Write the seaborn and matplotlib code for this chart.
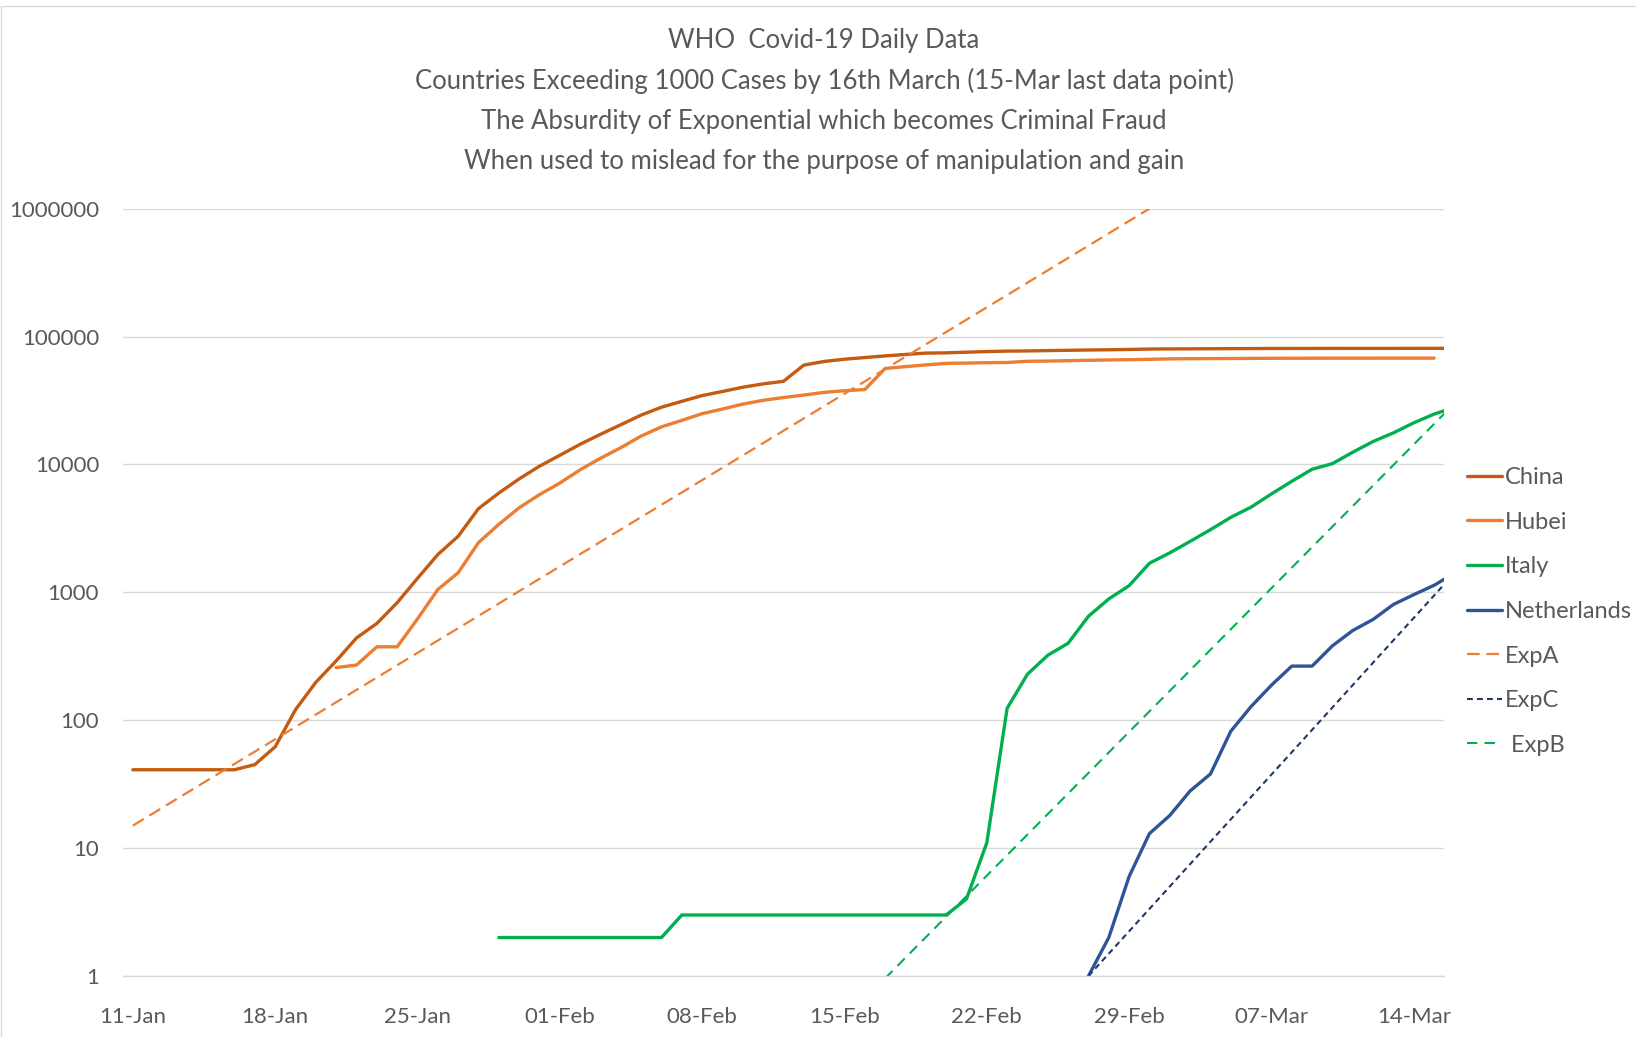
import pandas as pd
import matplotlib.pyplot as plt
import matplotlib.dates as mdates
from matplotlib.ticker import NullLocator
from matplotlib.patches import Rectangle
import seaborn as sns

# =============================================================================
# DATA (cumulative confirmed cases, one value per day from the start date)
# =============================================================================
title_lines = ["WHO  Covid-19 Daily Data",
               "Countries Exceeding 1000 Cases by 16th March (15-Mar last data point)",
               "The Absurdity of Exponential which becomes Criminal Fraud",
               "When used to mislead for the purpose of manipulation and gain"]

china_start = "2020-01-11"
china_cases = [41, 41, 41, 41, 41, 41, 45, 62, 121, 198, 291, 440, 571, 830, 1287,
               1975, 2744, 4515, 5974, 7711, 9692, 11791, 14380, 17205, 20438,
               24324, 28018, 31161, 34546, 37198, 40171, 42638, 44653, 59804,
               63851, 66492, 68500, 70548, 72436, 74185, 74576, 75465, 76288,
               76936, 77150, 77658, 78064, 78497, 78824, 79251, 79824, 80026,
               80151, 80270, 80409, 80552, 80651, 80695, 80735, 80754, 80778,
               80793, 80813, 80824, 80844, 80860]

hubei_start = "2020-01-21"
hubei_cases = [258, 270, 375, 375, 620, 1052, 1423, 2450, 3400, 4586, 5806, 7153,
               9074, 11177, 13522, 16678, 19665, 22112, 24953, 27100, 29631,
               31728, 33366, 34874, 36600, 37700, 38500, 56249, 58182, 59989,
               61682, 62031, 62442, 62662, 64084, 64287, 64786, 65187, 65596,
               65914, 66337, 66907, 67103, 67217, 67332, 67466, 67592, 67666,
               67707, 67743, 67760, 67773, 67781, 67786, 67790]

italy_start = "2020-01-29"
italy_cases = [2, 2, 2, 2, 2, 2, 2, 2, 2, 3, 3, 3, 3, 3, 3, 3, 3, 3, 3, 3, 3, 3, 3,
               4, 11, 124, 229, 322, 400, 650, 888, 1128, 1689, 2036, 2502, 3089,
               3858, 4636, 5883, 7375, 9172, 10149, 12462, 15113, 17660, 21157,
               24747, 27980]

netherlands_start = "2020-02-27"
netherlands_cases = [1, 2, 6, 13, 18, 28, 38, 82, 128, 188, 265, 265, 382, 503,
                     614, 804, 959, 1135, 1413]

# exponential guide lines: start and end point of each
expa_dates = ["2020-01-11", "2020-03-01"]
expa_values = [15, 1000000]
expb_dates = ["2020-02-17", "2020-03-16"]
expb_values = [0.96, 30000]
expc_dates = ["2020-02-27", "2020-03-16"]
expc_values = [1, 1413]

y_ticks = [1, 10, 100, 1000, 10000, 100000, 1000000]
y_tick_labels = ["1", "10", "100", "1000", "10000", "100000", "1000000"]
x_tick_labels = ["11-Jan", "18-Jan", "25-Jan", "01-Feb", "08-Feb", "15-Feb",
                 "22-Feb", "29-Feb", "07-Mar", "14-Mar"]


def daily(start, values):
    return pd.DataFrame({"date": pd.date_range(start, periods=len(values), freq="D"),
                         "cases": values})


def points(dates, values):
    return pd.DataFrame({"date": pd.to_datetime(dates), "cases": values})


# =============================================================================
# PLOT
# =============================================================================
sns.set_theme(style="white")
plt.rcParams["font.family"] = ["Lato", "DejaVu Sans"]
text_col = "#595959"
grid_col = "#D9D9D9"

fig = plt.figure(figsize=(16.36, 10.37), dpi=100)
ax = fig.add_axes([0.075, 0.0588, 0.8078, 0.74])

series = [
    (daily(china_start, china_cases), "China", "#C55A11", "-", 2.4),
    (daily(hubei_start, hubei_cases), "Hubei", "#ED7D31", "-", 2.4),
    (daily(italy_start, italy_cases), "Italy", "#00B050", "-", 2.4),
    (daily(netherlands_start, netherlands_cases), "Netherlands", "#2F5597", "-", 2.4),
    (points(expa_dates, expa_values), "ExpA", "#ED7D31", (0, (5.7, 3.0)), 1.6),
    (points(expc_dates, expc_values), "ExpC", "#1F3864", (0, (2.8, 2.0)), 1.5),
    (points(expb_dates, expb_values), " ExpB", "#00B050", (0, (5.0, 3.4)), 1.5),
]
for df, name, col, ls, lw in series:
    sns.lineplot(data=df, x="date", y="cases", ax=ax, color=col, linestyle=ls,
                 linewidth=lw, label=name)

ax.set_yscale("log")
ax.set_ylim(1, 1000000)
ax.set_yticks(y_ticks, labels=y_tick_labels)
ax.yaxis.set_minor_locator(NullLocator())

label_pos = pd.date_range("2020-01-11", periods=len(x_tick_labels), freq="7D")
ax.set_xlim(mdates.date2num(pd.Timestamp("2020-01-10 12:00")),
            mdates.date2num(pd.Timestamp("2020-03-15 12:00")))
ax.set_xticks(mdates.date2num(label_pos), labels=x_tick_labels)
ax.set_xticks(mdates.date2num(label_pos - pd.Timedelta(hours=12)), minor=True)

ax.grid(axis="y", color=grid_col, linewidth=1)
ax.set_xlabel("")
ax.set_ylabel("")
for s in ["left", "right", "top"]:
    ax.spines[s].set_visible(False)
ax.spines["bottom"].set_color(grid_col)
ax.spines["bottom"].set_linewidth(1)
ax.tick_params(axis="y", length=0, pad=17, labelsize=16, labelcolor=text_col)
ax.tick_params(axis="x", which="major", length=0, pad=22, labelsize=16,
               labelcolor=text_col)
ax.tick_params(axis="x", which="minor", length=6.5, width=0.75, color=grid_col,
               direction="out")

handles, labels = ax.get_legend_handles_labels()
if ax.get_legend() is not None:
    ax.get_legend().remove()
leg = fig.legend(handles, labels, loc="center left", bbox_to_anchor=(0.8967, 0.4104),
                 frameon=False, borderpad=0, borderaxespad=0, handlelength=1.5,
                 handletextpad=0.12, labelspacing=1.0, fontsize=17)
for t in leg.get_texts():
    t.set_color(text_col)

for i, line in enumerate(title_lines):
    fig.text(0.5037, 1 - (40.6 + 40.4 * i) / 1037, line, ha="center", va="center",
             fontsize=18.5, color=text_col)

# thin chart border
fig.add_artist(Rectangle((1 / 1636, -0.05), 1.5, 1.05 - 6 / 1037,
                         transform=fig.transFigure, fill=False,
                         edgecolor=grid_col, linewidth=1))

fig.savefig("out.png", dpi=100)
